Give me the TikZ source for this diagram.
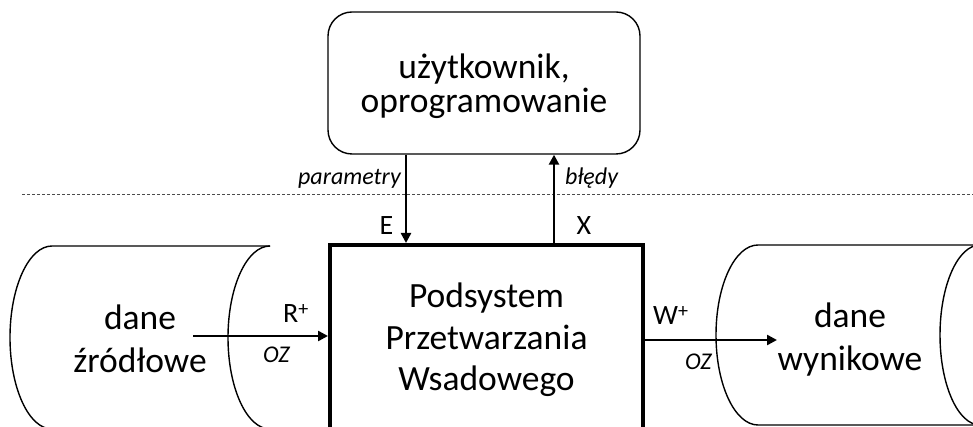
\documentclass[tikz,border=0pt]{standalone}
\usepackage{fontspec}
\setmainfont{Carlito}
\usetikzlibrary{arrows.meta}
\newcommand{\supplus}{\raisebox{7.5pt}{\fontsize{20}{20}\selectfont +}}
\begin{document}
\begin{tikzpicture}[x=1pt,y=1pt,
  thinline/.style={line width=1.4pt},
  arr/.style={line width=2.4pt,-{Triangle[length=10pt,width=10pt]}},
  big/.style={font=\fontsize{35.5}{44}\selectfont, align=center, inner sep=0pt},
  lab/.style={font=\fontsize{28}{32}\selectfont, inner sep=0pt},
  ilab/.style={font=\fontsize{24}{28}\selectfont\itshape, inner sep=0pt},
  sepline/.style={line width=0.9pt, black!70, dash pattern=on 3pt off 2pt},
]
\clip (0,0) rectangle (973,427);
% top box
\node[draw, thinline, rounded corners=24pt, minimum width=312pt, minimum height=142pt] (user) at (484,344) {};
\node[big, font=\fontsize{35.5}{34}\selectfont, anchor=base] (usertext) at (484,314) {użytkownik,\\oprogramowanie};
% separator
\draw[sepline] (22,233) -- (973,233);
% main box
\node[draw, line width=4pt, minimum width=313pt, minimum height=260pt, anchor=north, inner sep=0pt] (main) at (486.5,184) {};
\node[big, font=\fontsize{35.5}{41.5}\selectfont, anchor=base] (maintext) at (486.5,36) {Podsystem\\Przetwarzania\\Wsadowego};
% left cylinder
\draw[thinline] (270,181) -- (52,181) arc[start angle=90, end angle=270, x radius=42, y radius=91.5] -- (270,-2);
\draw[thinline] (270,181) arc[start angle=90, end angle=270, x radius=42, y radius=91.5];
\node[big, font=\fontsize{35.5}{43}\selectfont, anchor=base] (src) at (140,54) {dane\\źródłowe};
% right cylinder
\draw[thinline] (990,182) -- (758,182) arc[start angle=90, end angle=270, x radius=42, y radius=90] -- (990,2);
\draw[thinline] (980,182) arc[start angle=90, end angle=270, x radius=40, y radius=90];
\node[big, font=\fontsize{35.5}{43}\selectfont, anchor=base] (dst) at (850,56) {dane\\wynikowe};
% connectors
\coordinate (ex) at (406,0);
\coordinate (xx) at (554,0);
\coordinate (rin) at (193,91);
\coordinate (wout) at (777,87);
\draw[arr] (ex |- user.south) -- (ex |- main.north);
\draw[arr] (xx |- main.north) -- (xx |- user.south);
\draw[arr] (rin) -- (rin -| main.west);
\draw[arr] (wout -| main.east) -- (wout);
% labels
\node[ilab, anchor=base east] (par) at (401,242) {parametry};
\node[ilab, anchor=base west] (bl) at (565,242) {błędy};
\node[lab, anchor=base] (E) at (386.5,192) {E};
\node[lab, anchor=base] (X) at (584,192) {X};
\node[lab, anchor=base west] (R) at (283,104) {R\supplus};
\node[lab, anchor=base west] (W) at (653,102) {W\supplus};
\node[ilab, anchor=base west] (oz1) at (263,64) {OZ};
\node[ilab, anchor=base west] (oz2) at (685,57) {OZ};
\end{tikzpicture}
\end{document}
